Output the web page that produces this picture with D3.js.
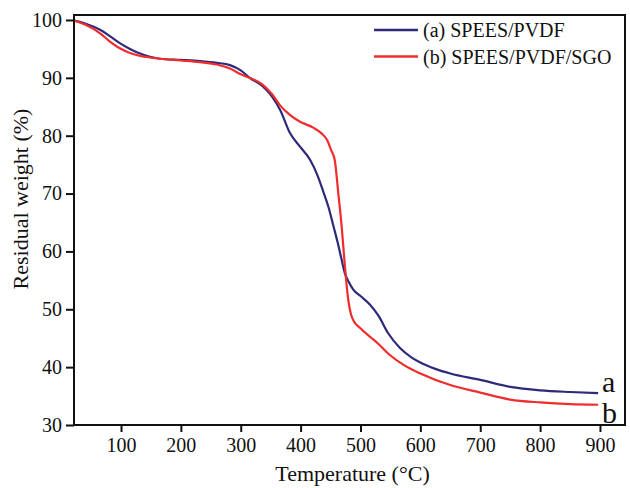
<!DOCTYPE html>
<html>
<head>
<meta charset="utf-8">
<script src="https://cdn.jsdelivr.net/npm/d3@7"></script>
<style>
  html, body { margin: 0; padding: 0; background: #fff; }
  svg { display: block; }
  text { font-family: "Liberation Serif", "Times New Roman", serif; fill: #111; }
</style>
</head>
<body>
<svg id="chart" width="630" height="488"></svg>
<script>
// ---- data ----
const seriesNames = ["(a) SPEES/PVDF", "(b) SPEES/PVDF/SGO"];
const endLabels = ["a", "b"];
const colors = ["#2d2a7a", "#f02c2c"];

const tempA = [22, 40, 65, 80, 98, 115, 132, 150, 165, 200, 232, 260, 282, 300, 315, 337, 352, 366, 382, 399, 416, 428, 438, 447, 455, 462, 468, 474, 480, 488, 500, 516, 530, 546, 566, 585, 600, 625, 650, 700, 750, 800, 850, 897];
const weightA = [99.9, 99.4, 98.3, 97.3, 96.0, 95.0, 94.2, 93.6, 93.3, 93.1, 92.9, 92.6, 92.2, 91.3, 90.0, 88.5, 86.8, 84.4, 80.5, 78.1, 75.8, 73.2, 70.3, 67.5, 64.3, 61.5, 58.8, 56.2, 54.8, 53.4, 52.3, 50.8, 48.9, 45.9, 43.3, 41.7, 40.8, 39.7, 38.9, 37.8, 36.6, 36.0, 35.7, 35.5];

const tempB = [22, 40, 65, 80, 98, 115, 132, 150, 165, 200, 232, 260, 282, 300, 315, 337, 352, 366, 382, 399, 421, 435, 444, 451, 457, 463, 468.6, 474, 479.6, 484, 488, 499, 519, 530, 549, 572, 600, 650, 700, 750, 800, 850, 897];
const weightB = [99.9, 99.2, 97.7, 96.4, 95.1, 94.3, 93.8, 93.5, 93.3, 93.0, 92.7, 92.3, 91.6, 90.6, 90.0, 88.8, 87.2, 85.2, 83.6, 82.4, 81.4, 80.4, 79.3, 77.5, 75.8, 70.0, 64.3, 57.4, 51.6, 49.2, 48.1, 46.8, 45.0, 44.0, 42.1, 40.4, 38.9, 36.9, 35.6, 34.4, 33.9, 33.6, 33.5];

const xTicks = [100, 200, 300, 400, 500, 600, 700, 800, 900];
const yTicks = [30, 40, 50, 60, 70, 80, 90, 100];
const xTitle = "Temperature (°C)";
const yTitle = "Residual weight (%)";

// ---- layout ----
const svg = d3.select("#chart");
const L = 74, R = 625, T = 15, B = 425;

const x = d3.scaleLinear().domain([21.5, 941.8]).range([L, R]);
const y = d3.scaleLinear().domain([30, 100.86]).range([B, T]);

const series = [
  tempA.map((t, i) => [t, weightA[i]]),
  tempB.map((t, i) => [t, weightB[i]])
];

const line = d3.line().x(d => x(d[0])).y(d => y(d[1])).curve(d3.curveMonotoneX);

// curves
series.forEach((s, i) => {
  svg.append("path")
    .datum(s)
    .attr("d", line)
    .attr("fill", "none")
    .attr("stroke", colors[i])
    .attr("stroke-width", 2.2)
    .attr("stroke-linejoin", "round");
});

// frame
svg.append("rect")
  .attr("x", L).attr("y", T)
  .attr("width", R - L).attr("height", B - T)
  .attr("fill", "none").attr("stroke", "#111").attr("stroke-width", 2);

// axes
const xAxis = svg.append("g")
  .attr("transform", `translate(0,${B})`)
  .call(d3.axisBottom(x).tickValues(xTicks).tickSize(7).tickPadding(6).tickFormat(d3.format("d")));
const yAxis = svg.append("g")
  .attr("transform", `translate(${L},0)`)
  .call(d3.axisLeft(y).tickValues(yTicks).tickSize(8).tickPadding(4).tickFormat(d3.format("d")));

[xAxis, yAxis].forEach(g => {
  g.select(".domain").remove();
  g.selectAll(".tick line").attr("stroke", "#111").attr("stroke-width", 2);
  g.selectAll(".tick text")
    .attr("fill", "#111")
    .style("font-family", '"Liberation Serif", serif')
    .style("font-size", "20px");
});

// axis titles
svg.append("text")
  .attr("x", (L + R) / 2 + 3)
  .attr("y", 481)
  .attr("text-anchor", "middle")
  .style("font-size", "22px")
  .text(xTitle);

svg.append("text")
  .attr("transform", `translate(28,${(T + B) / 2 - 21}) rotate(-90)`)
  .attr("text-anchor", "middle")
  .style("font-size", "22px")
  .text(yTitle);

// legend
const legend = svg.append("g");
seriesNames.forEach((name, i) => {
  const ly = 30 + i * 26.5;
  legend.append("line")
    .attr("x1", 374).attr("x2", 418)
    .attr("y1", ly).attr("y2", ly)
    .attr("stroke", colors[i]).attr("stroke-width", 2.4);
  legend.append("text")
    .attr("x", 423).attr("y", ly + 7)
    .style("font-size", "20px")
    .text(name);
});

// end labels
const endY = [391.5, 423];
endLabels.forEach((lab, i) => {
  svg.append("text")
    .attr("x", 602).attr("y", endY[i])
    .style("font-size", "30px")
    .text(lab);
});
</script>
</body>
</html>
